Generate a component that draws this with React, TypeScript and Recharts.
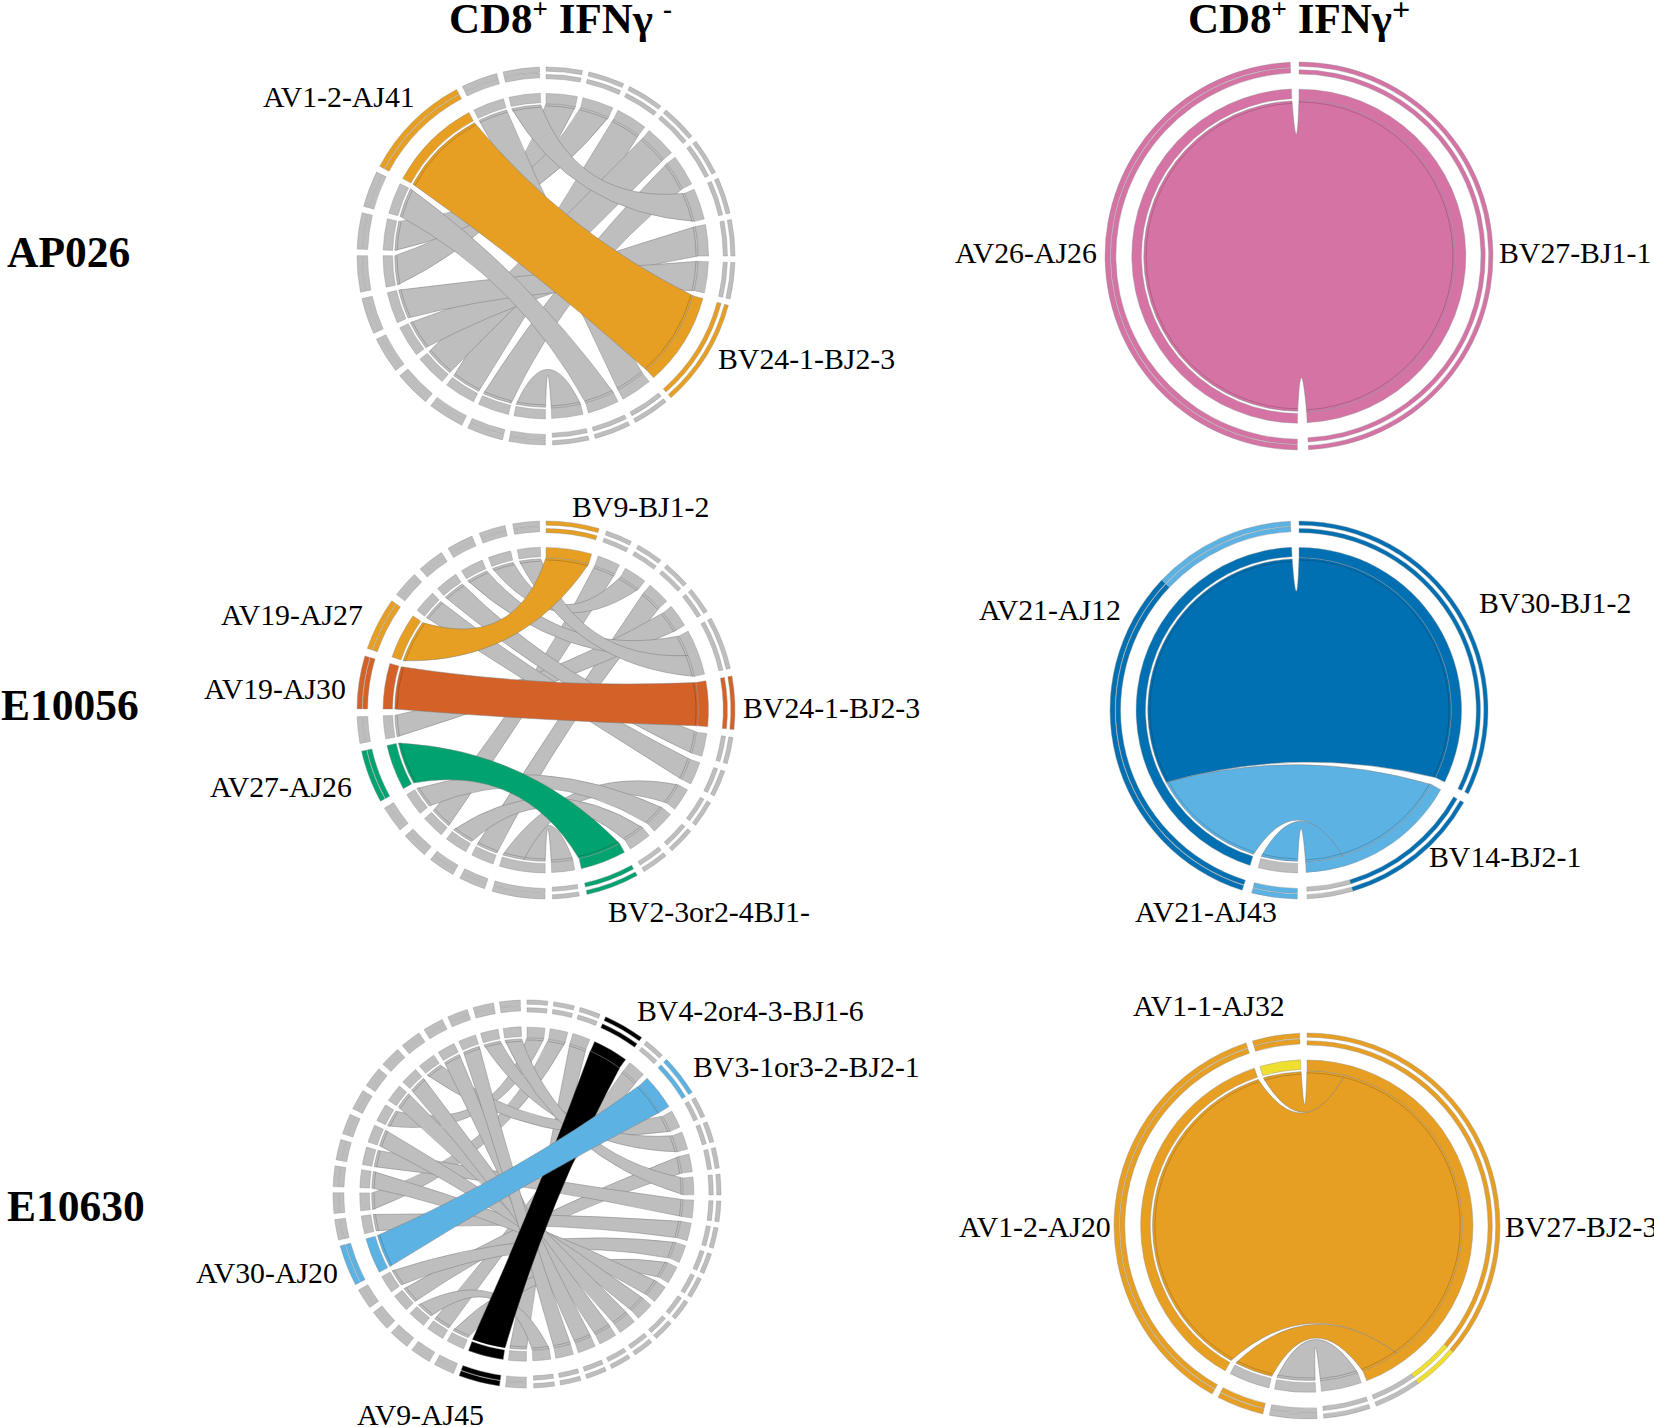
import React from "react";
import { PieChart, Pie, Cell, Customized } from "recharts";

const GRAY = "#BEBEBE";
const ORANGE = "#E69F22";
const VERMILION = "#D46127";
const GREEN = "#00A26F";
const SKY = "#5BB2E3";
const BLUE = "#0070B2";
const PINK = "#D573A5";
const YELLOW = "#EFE02F";
const BLACK = "#000000";

type Link = [number, number, number, string];
const g = (a: number, b: number): Link => [a, b, 1, GRAY];

// Links are [alpha sector, beta sector, clone weight, colour]
const ap026NegLinks: Link[] = [
  g(0, 11), g(1, 4), g(2, 2), g(3, 3), g(4, 6), g(5, 7), g(6, 0), g(7, 1), g(8, 10),
  [9, 8, 3, ORANGE], g(10, 9), g(11, 5),
];
const e10056NegLinks: Link[] = [
  g(0, 13), g(0, 9), g(1, 3), g(2, 11), g(3, 1), g(4, 10), [5, 12, 2, GREEN], g(6, 4),
  [7, 6, 2, VERMILION], [8, 0, 2, ORANGE], g(9, 8), g(10, 7), g(11, 5), g(12, 2), g(13, 5),
];
const e10630NegLinks: Link[] = [
  g(0, 2), [1, 3, 2, BLACK], g(2, 13), g(3, 4), g(4, 20), g(5, 8), g(6, 12), [7, 5, 2, SKY],
  g(8, 11), g(9, 1), g(10, 14), g(11, 10), g(12, 15), g(13, 0), g(14, 16), g(15, 17),
  g(16, 6), g(17, 18), g(18, 19), g(19, 7), g(20, 9),
];
const ap026PosLinks: Link[] = [[0, 0, 1, PINK]];
const e10056PosLinks: Link[] = [
  [1, 1, 44, SKY], [1, 0, 116, BLUE], [0, 1, 14, SKY],
];
const e10630PosLinks: Link[] = [
  [0, 1, 14, GRAY], [3, 0, 14, ORANGE], [2, 0, 130, ORANGE], [1, 0, 14, ORANGE],
];

// Sector colours where they differ from the link colours
type Seg = [number, string];
const e10056PosInnerAlpha = [GRAY, BLUE];
const e10056PosInnerBeta = [BLUE, SKY];
const e10056PosOuterAlpha: Seg[][] = [[[14, SKY]], [[116, BLUE], [44, SKY]]];
const e10056PosOuterBeta: Seg[][] = [[[116, BLUE]], [[44, BLUE], [14, GRAY]]];
const e10630PosInnerAlpha = [GRAY, GRAY, ORANGE, YELLOW];
const e10630PosInnerBeta = [ORANGE, GRAY];
const e10630PosOuterAlpha: Seg[][] = [[[14, GRAY]], [[14, ORANGE]], [[130, ORANGE]], [[14, ORANGE]]];
const e10630PosOuterBeta: Seg[][] = [[[130, ORANGE], [14, YELLOW], [14, GRAY]], [[14, GRAY]]];

const panels = [
  { links: ap026NegLinks, cx: 546, cy: 256, R: 189, gap: 2.0, beta: [90, -88], alpha: [-90.2, -268] },
  { links: e10056NegLinks, cx: 546, cy: 710, R: 189, gap: 2.4, beta: [90, -88], alpha: [-90.3, -268] },
  { links: e10630NegLinks, cx: 527, cy: 1194, R: 194, gap: 1.8, beta: [90, -88], alpha: [-90.2, -268] },
  { links: ap026PosLinks, cx: 1299, cy: 256, R: 194, gap: 0, beta: [90, -87.2], alpha: [-90.5, -267.4] },
  {
    links: e10056PosLinks, cx: 1299, cy: 710, R: 189, gap: 3, beta: [90, -87.5], alpha: [-90.5, -267.4],
    innerA: e10056PosInnerAlpha, innerB: e10056PosInnerBeta, outerA: e10056PosOuterAlpha, outerB: e10056PosOuterBeta,
  },
  {
    links: e10630PosLinks, cx: 1307, cy: 1226, R: 193, gap: 2, beta: [90, -85], alpha: [-87, -267.8],
    innerA: e10630PosInnerAlpha, innerB: e10630PosInnerBeta, outerA: e10630PosOuterAlpha, outerB: e10630PosOuterBeta,
  },
];

const rowLabels = ["AP026", "E10056", "E10630"];
const rowPlaces = [[7, 267], [1, 720], [7, 1221]];

const cloneLabels = [
  "AV1-2-AJ41", "BV24-1-BJ2-3", "AV26-AJ26", "BV27-BJ1-1", "BV9-BJ1-2", "AV19-AJ27", "AV19-AJ30",
  "BV24-1-BJ2-3", "AV27-AJ26", "BV2-3or2-4BJ1-", "AV21-AJ12", "BV30-BJ1-2", "BV14-BJ2-1", "AV21-AJ43",
  "BV4-2or4-3-BJ1-6", "BV3-1or3-2-BJ2-1", "AV30-AJ20", "AV9-AJ45", "AV1-1-AJ32", "AV1-2-AJ20", "BV27-BJ2-3",
];
const clonePlaces = [
  [263, 107], [718, 369], [955, 263], [1499, 263], [572, 517], [221, 625], [204, 699],
  [743, 718], [210, 797], [608, 922], [979, 620], [1479, 613], [1429, 867], [1135, 922],
  [637, 1021], [693, 1077], [196, 1283], [357, 1425], [1133, 1016], [959, 1237], [1505, 1237],
];

const FONT = "'Liberation Serif', 'Times New Roman', serif";

function sectorTotals(links: Link[], side: 0 | 1) {
  const n = Math.max(...links.map((l) => l[side])) + 1;
  const totals = new Array(n).fill(0);
  links.forEach((l) => (totals[l[side]] += l[2]));
  return totals as number[];
}

function sectorColors(links: Link[], side: 0 | 1) {
  const n = Math.max(...links.map((l) => l[side])) + 1;
  const colors = new Array(n).fill(GRAY);
  links.forEach((l) => {
    if (l[3] !== GRAY) colors[l[side]] = l[3];
  });
  return colors as string[];
}

// Degrees per unit of weight within a half of the circle
function unitOf(totals: number[], arc: number[], gap: number) {
  const sum = totals.reduce((a, b) => a + b, 0);
  return (Math.abs(arc[1] - arc[0]) - gap * (totals.length - 1)) / sum;
}

// Pie slices for one ring of one half: coloured pieces with clear spacers between sectors
function ringSlices(segs: Seg[][], unit: number, gap: number) {
  const out: { value: number; fill: string }[] = [];
  segs.forEach((list, i) => {
    if (i > 0) out.push({ value: gap, fill: "none" });
    list.forEach(([v, c]) => out.push({ value: v * unit, fill: c }));
  });
  return out;
}

function Ring({ data, p, arc, inner, outer, k }: any) {
  return (
    <Pie
      key={k}
      data={data}
      dataKey="value"
      cx={p.cx}
      cy={p.cy}
      innerRadius={inner * p.R}
      outerRadius={outer * p.R}
      startAngle={arc[0]}
      endAngle={arc[1]}
      paddingAngle={0}
      isAnimationActive={false}
      label={false}
      labelLine={false}
    >
      {data.map((d: any, i: number) => (
        <Cell key={i} fill={d.fill} stroke={d.fill === "none" ? "none" : "#8f8f8f"} strokeWidth={d.fill === "none" ? 0 : 0.4} />
      ))}
    </Pie>
  );
}

function ringsFor(p: any, idx: number) {
  const ta = sectorTotals(p.links, 0);
  const tb = sectorTotals(p.links, 1);
  const ua = unitOf(ta, p.alpha, p.gap);
  const ub = unitOf(tb, p.beta, p.gap);
  const ca = p.innerA || sectorColors(p.links, 0);
  const cb = p.innerB || sectorColors(p.links, 1);
  const innerA: Seg[][] = ta.map((v, i) => [[v, ca[i]]]);
  const innerB: Seg[][] = tb.map((v, i) => [[v, cb[i]]]);
  const da = ringSlices(p.outerA || innerA, ua, p.gap);
  const db = ringSlices(p.outerB || innerB, ub, p.gap);
  const ia = ringSlices(innerA, ua, p.gap);
  const ib = ringSlices(innerB, ub, p.gap);
  return [
    Ring({ k: `${idx}-ia`, data: ia, p, arc: p.alpha, inner: 0.812, outer: 0.862 }),
    Ring({ k: `${idx}-ib`, data: ib, p, arc: p.beta, inner: 0.806, outer: 0.86 }),
    Ring({ k: `${idx}-oa1`, data: da, p, arc: p.alpha, inner: 0.973, outer: 1 }),
    Ring({ k: `${idx}-oa2`, data: da, p, arc: p.alpha, inner: 0.944, outer: 0.97 }),
    Ring({ k: `${idx}-ob1`, data: db, p, arc: p.beta, inner: 0.978, outer: 1 }),
    Ring({ k: `${idx}-ob2`, data: db, p, arc: p.beta, inner: 0.938, outer: 0.96 }),
  ];
}

const rad = (d: number) => (d * Math.PI) / 180;

function ribbonPaths(p: any) {
  const ta = sectorTotals(p.links, 0);
  const tb = sectorTotals(p.links, 1);
  const ua = unitOf(ta, p.alpha, p.gap);
  const ub = unitOf(tb, p.beta, p.gap);
  const startsOf = (totals: number[], unit: number, arc: number[]) => {
    let cur = arc[0];
    return totals.map((v) => {
      const s = cur;
      cur -= v * unit + p.gap;
      return s;
    });
  };
  const sa = startsOf(ta, ua, p.alpha);
  const sb = startsOf(tb, ub, p.beta);
  const usedA = ta.map(() => 0);
  const usedB = tb.map(() => 0);
  const rA = 0.8 * p.R;
  const rB = 0.806 * p.R;
  const pt = (ang: number, r: number) => [p.cx + r * Math.cos(rad(ang)), p.cy - r * Math.sin(rad(ang))];
  const ctrl = (a1: number, a2: number, r: number) => {
    let d = Math.abs(a1 - a2) % 360;
    let mid = (a1 + a2) / 2;
    if (d > 180) {
      d = 360 - d;
      mid += 180;
    }
    const x = 1 - d / 180;
    return pt(mid, r * (0.06 + 0.26 * Math.cos(rad(d / 2)) + 0.25 * Math.pow(x, 1.4)));
  };
  const paths = p.links.map((l: Link) => {
    const [a, b, v, color] = l;
    const a0 = sa[a] - usedA[a] * ua;
    const a1 = a0 - v * ua;
    usedA[a] += v;
    const b0 = sb[b] - usedB[b] * ub;
    const b1 = b0 - v * ub;
    usedB[b] += v;
    const B0 = pt(b0, rB);
    const B1 = pt(b1, rB);
    const A0 = pt(a0, rA);
    const A1 = pt(a1, rA);
    const c1 = ctrl(b1, a0, (rA + rB) / 2);
    const c2 = ctrl(a1, b0, (rA + rB) / 2);
    const largeB = Math.abs(b1 - b0) > 180 ? 1 : 0;
    const largeA = Math.abs(a1 - a0) > 180 ? 1 : 0;
    const d =
      `M${B0[0]},${B0[1]} A${rB},${rB} 0 ${largeB} 1 ${B1[0]},${B1[1]} ` +
      `Q${c1[0]},${c1[1]} ${A0[0]},${A0[1]} A${rA},${rA} 0 ${largeA} 1 ${A1[0]},${A1[1]} ` +
      `Q${c2[0]},${c2[1]} ${B0[0]},${B0[1]} Z`;
    const rb2 = rB * 0.985;
    const ra2 = rA * 0.985;
    const P = pt(b0, rb2);
    const Q = pt(b1, rb2);
    const S = pt(a0, ra2);
    const T = pt(a1, ra2);
    const inner =
      `M${P[0]},${P[1]} A${rb2},${rb2} 0 ${largeB} 1 ${Q[0]},${Q[1]} ` +
      `M${S[0]},${S[1]} A${ra2},${ra2} 0 ${largeA} 1 ${T[0]},${T[1]}`;
    return { d, color, inner };
  });
  const rank = (c: string) => (c === GRAY ? 0 : 1);
  return paths.slice().sort((x: any, y: any) => rank(x.color) - rank(y.color));
}

function Ribbons() {
  return (
    <g>
      {panels.map((p, i) => (
        <g key={i}>
          {ribbonPaths(p).map((r: any, j: number) => (
            <g key={j}>
              <path d={r.d} fill={r.color} stroke={r.color === BLACK ? "#000" : "#7d7d7d"} strokeWidth={0.5} />
              <path d={r.inner} fill="none" stroke="#000" strokeOpacity={0.3} strokeWidth={0.6} />
            </g>
          ))}
        </g>
      ))}
    </g>
  );
}

function Title({ x, last }: { x: number; last: string }) {
  return (
    <text x={x} y={33} fontFamily={FONT} fontWeight="bold" fontSize={43} fill="#000">
      CD8
      <tspan dy={-15} fontSize={27}>+</tspan>
      <tspan dy={15}> IFNγ</tspan>
      {last === "+" ? (
        <tspan dy={-13} fontSize={32}>+</tspan>
      ) : (
        <tspan dx={10} dy={-15} fontSize={27}>-</tspan>
      )}
    </text>
  );
}

function Texts() {
  return (
    <g>
      <Title x={449} last="-" />
      <Title x={1188} last="+" />
      {rowLabels.map((t, i) => (
        <text key={t} x={rowPlaces[i][0]} y={rowPlaces[i][1]} fontFamily={FONT} fontWeight="bold" fontSize={43.5} fill="#000">
          {t}
        </text>
      ))}
      {cloneLabels.map((t, i) => (
        <text key={i} x={clonePlaces[i][0]} y={clonePlaces[i][1]} fontFamily={FONT} fontSize={29.8} fill="#000">
          {t}
        </text>
      ))}
    </g>
  );
}

export default function App() {
  return (
    <div style={{ position: "absolute", left: 0, top: 0, width: 1654, height: 1427, background: "#fff" }}>
      <PieChart width={1654} height={1427} margin={{ top: 0, right: 0, bottom: 0, left: 0 }}>
        {panels.flatMap((p, i) => ringsFor(p, i))}
        <Customized component={<Ribbons />} />
        <Customized component={<Texts />} />
      </PieChart>
    </div>
  );
}
